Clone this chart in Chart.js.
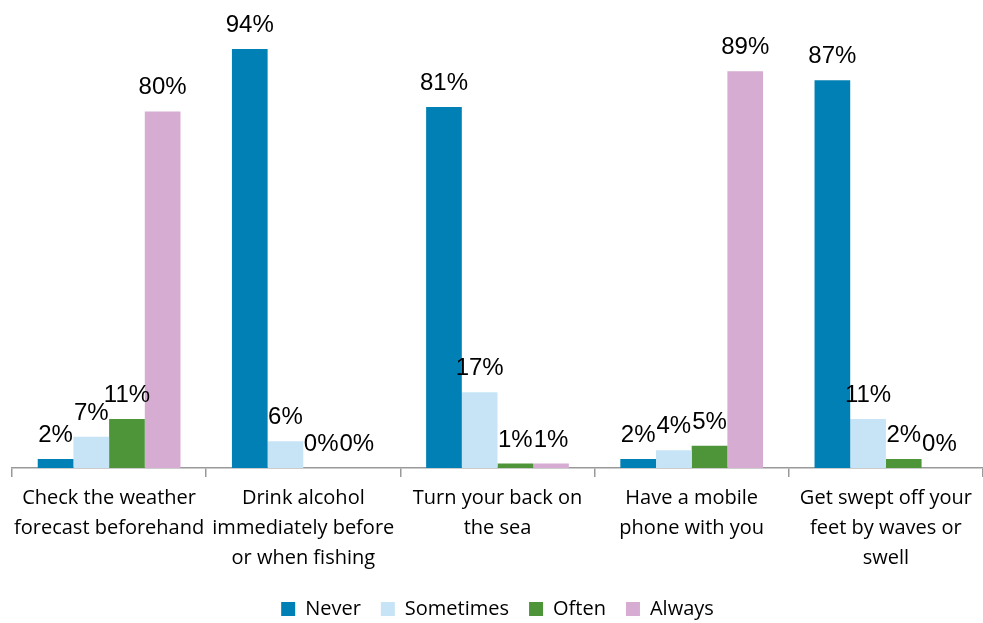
<!DOCTYPE html>
<html>
<head>
<meta charset="utf-8">
<script src="https://cdn.jsdelivr.net/npm/chart.js@4/dist/chart.umd.min.js"></script>
<style>
  html, body { margin: 0; padding: 0; background: #fff; }
  #wrap { width: 983px; height: 623px; position: relative; }
</style>
</head>
<body>
<div id="wrap"><canvas id="chart"></canvas></div>
<script>
const categories = [
  ['Check the weather', 'forecast beforehand'],
  ['Drink alcohol', 'immediately before', 'or when fishing'],
  ['Turn your back on', 'the sea'],
  ['Have a mobile', 'phone with you'],
  ['Get swept off your', 'feet by waves or', 'swell']
]
const never = [2, 94, 81, 2, 87]
const sometimes = [7, 6, 17, 4, 11]
const often = [11, 0, 1, 5, 2]
const always = [80, 0, 1, 89, 0]

// draw the % labels above each bar
const barLabels = {
  id: 'barLabels',
  afterDatasetsDraw(chart) {
    const ctx = chart.ctx
    ctx.save()
    ctx.font = '24px "Liberation Sans", Arial, sans-serif'
    ctx.fillStyle = '#000'
    ctx.textAlign = 'center'
    ctx.textBaseline = 'alphabetic'
    chart.data.datasets.forEach((ds, i) => {
      chart.getDatasetMeta(i).data.forEach((bar, j) => {
        ctx.fillText(ds.data[j] + '%', bar.x, bar.y - 17)
      })
    })
    ctx.restore()
  }
}

new Chart(document.getElementById('chart'), {
  type: 'bar',
  data: {
    labels: categories,
    datasets: [
      { label: 'Never', data: never, backgroundColor: '#0080B4' },
      { label: 'Sometimes', data: sometimes, backgroundColor: '#C6E4F6' },
      { label: 'Often', data: often, backgroundColor: '#4E953A' },
      { label: 'Always', data: always, backgroundColor: '#D6ACD2' }
    ]
  },
  options: {
    responsive: true,
    maintainAspectRatio: false,
    animation: false,
    layout: { padding: { left: 12, right: 0, top: 0, bottom: -6 } },
    datasets: { bar: { barPercentage: 1, categoryPercentage: 0.735 } },
    scales: {
      y: { display: false, min: 0, max: 105 },
      x: {
        border: { display: true, color: '#999', width: 1.5 },
        grid: { display: true, drawOnChartArea: false, drawTicks: true, tickLength: 9, color: '#999', lineWidth: 1.5, offset: true },
        ticks: {
          color: '#000',
          maxRotation: 0,
          autoSkip: false,
          padding: 6,
          font: { family: '"Open Sans", "Noto Sans", sans-serif', size: 20, lineHeight: 1.5 }
        }
      }
    },
    plugins: {
      legend: {
        position: 'bottom',
        labels: {
          color: '#000',
          boxWidth: 14,
          boxHeight: 14,
          padding: 20,
          font: { family: '"Open Sans", "Noto Sans", sans-serif', size: 20 }
        }
      },
      tooltip: { enabled: false }
    }
  },
  plugins: [barLabels]
})
</script>
</body>
</html>
